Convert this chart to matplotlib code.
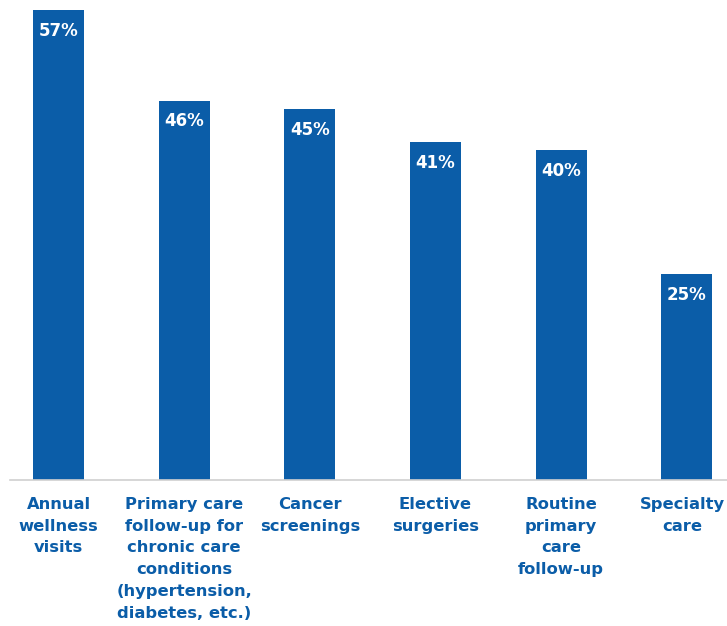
import matplotlib.pyplot as plt
import numpy as np

categories = [
    "Annual\nwellness\nvisits",
    "Primary care\nfollow-up for\nchronic care\nconditions\n(hypertension,\ndiabetes, etc.)",
    "Cancer\nscreenings",
    "Elective\nsurgeries",
    "Routine\nprimary\ncare\nfollow-up",
    "Specialty\ncare",
]
values = [57, 46, 45, 41, 40, 25]

BLUE = "#0B5DA8"

plt.rcParams["font.family"] = ["DejaVu Sans"]

fig = plt.figure(figsize=(7.27, 6.26), dpi=100)
ax = fig.add_axes([10 / 727, 146 / 626, 717 / 727, 480 / 626])

x = np.arange(len(values))
ax.bar(x, values, width=0.406, color=BLUE, zorder=2)

for xi, v in zip(x, values):
    ax.annotate(f"{v}%", (xi, v), xytext=(0, -15), textcoords="offset points",
                ha="center", va="center", color="white",
                fontsize=12, fontweight="bold")

# category names under the baseline; the last one nudged in from the edge
for xi, name in zip(x, categories):
    dx = -3 if xi == x[-1] else 0
    ax.annotate(name, (xi, 0), xytext=(dx, -12), textcoords="offset points",
                ha="center", va="top", color=BLUE, fontsize=11.8,
                fontweight="bold", linespacing=1.57, annotation_clip=False)

ax.set_xlim(-0.386, 5.32)
ax.set_ylim(0, 58.2)

for s in ["top", "right", "left"]:
    ax.spines[s].set_visible(False)
ax.spines["bottom"].set_color("#d0d0d0")
ax.spines["bottom"].set_linewidth(1.2)
ax.set_yticks([])
ax.set_xticks([])

fig.savefig("out.png", dpi=100)
